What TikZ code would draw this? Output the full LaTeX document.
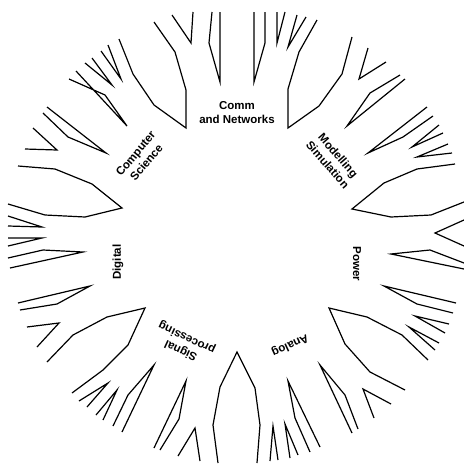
\documentclass[tikz,border=0pt]{standalone}
\usepackage{fontspec}
\setmainfont{Liberation Sans}
\usepackage{tikz}
\tikzset{
  brin/.style = {draw=black, line width=1.2pt, line join=miter},% branche
  etiq/.style = {align=center, inner sep=0pt, text centered,
    font=\fontsize{11.5}{14}\selectfont\bfseries}% nom du domaine
}

\begin{document}
\begin{tikzpicture}[x=1pt,y=-1pt]
\useasboundingbox (0,0) rectangle (464,464);
% domaines
\node [etiq] (comm) at (237,113) {Comm\\and Networks};
\node [etiq, rotate=50] (info) at (141,158) {Computer\\Science};
\node [etiq, rotate=90] (digi) at (118,262) {Digital};
\node [etiq, rotate=155] (signal) at (184,344) {Signal\\processing};
\node [etiq, rotate=205] (analog) at (290,345) {Analog};
\node [etiq, rotate=-90] (power) at (357,264) {Power};
\node [etiq, rotate=-49] (modsim) at (333,160) {Modelling\\Simulation};
% branches du haut
\draw[brin] (154,22) -- (175,52) -- (186,90) -- (186,128) -- (154,105) -- (133,74) -- (119,39);
\draw[brin] (172,15) -- (191,43) -- (193,12);
\draw[brin] (212,12) -- (209,43) -- (220,82) -- (220,12);
\draw[brin] (254,12) -- (254,82) -- (265,43) -- (265,12);
\draw[brin] (277,12) -- (277,43) -- (285,12);
\draw[brin] (297,15) -- (288,47) -- (306,17);
\draw[brin] (317,20) -- (299,52) -- (288,89) -- (288,128) -- (319,106) -- (342,74) -- (352,37);
% branches de droite
\draw[brin] (368,48) -- (359,79) -- (386,62);
\draw[brin] (400,75) -- (370,93) -- (347,126) -- (405,79);
\draw[brin] (427,107) -- (368,153) -- (403,137) -- (433,116);
\draw[brin] (439,125) -- (412,147) -- (443,133);
\draw[brin] (448,144) -- (417,157) -- (452,153);
\draw[brin] (455,164) -- (417,169) -- (384,183) -- (352,209) -- (391,217) -- (431,215) -- (464,202);
\draw[brin] (464,220) -- (435,233) -- (464,246);
\draw[brin] (464,263) -- (430,250) -- (391,254) -- (464,269);
\draw[brin] (453,313) -- (417,304) -- (384,286) -- (456,303);
\draw[brin] (445,333) -- (415,316) -- (449,324);
\draw[brin] (435,350) -- (409,327) -- (439,343);
\draw[brin] (428,360) -- (402,335) -- (367,317) -- (329,308) -- (345,344) -- (370,372) -- (405,390);
% branches du bas
\draw[brin] (374,418) -- (363,389) -- (391,404);
\draw[brin] (358,429) -- (345,395) -- (320,365) -- (352,433);
\draw[brin] (310,452) -- (295,418) -- (288,381) -- (320,447);
\draw[brin] (290,458) -- (285,424) -- (298,455);
\draw[brin] (270,461) -- (273,426) -- (278,460);
\draw[brin] (218,463) -- (213,425) -- (220,387) -- (237,352) -- (255,388) -- (260,425) -- (257,463);
\draw[brin] (178,456) -- (195,428) -- (200,461);
\draw[brin] (160,450) -- (179,419) -- (186,381) -- (154,448);
\draw[brin] (113,426) -- (128,395) -- (154,365) -- (122,432);
\draw[brin] (96,415) -- (117,390) -- (103,420);
\draw[brin] (79,401) -- (108,383) -- (87,407);
% branches de gauche
\draw[brin] (47,362) -- (73,335) -- (107,317) -- (145,308) -- (128,345) -- (103,370) -- (72,393);
\draw[brin] (27,327) -- (59,323) -- (37,347);
\draw[brin] (18,303) -- (90,286) -- (57,304) -- (20,310);
\draw[brin] (8,258) -- (43,250) -- (83,252) -- (10,268);
\draw[brin] (8,238) -- (42,238) -- (8,246);
\draw[brin] (8,216) -- (42,227) -- (8,226);
\draw[brin] (18,166) -- (55,169) -- (92,184) -- (122,208) -- (85,217) -- (45,215) -- (8,204);
\draw[brin] (33,128) -- (57,150) -- (25,149);
\draw[brin] (43,113) -- (68,137) -- (106,153) -- (47,107);
\draw[brin] (69,79) -- (105,95) -- (127,126) -- (76,71);
\draw[brin] (85,63) -- (112,85) -- (92,58);
\draw[brin] (101,51) -- (121,79) -- (108,45);
\end{tikzpicture}
\end{document}
